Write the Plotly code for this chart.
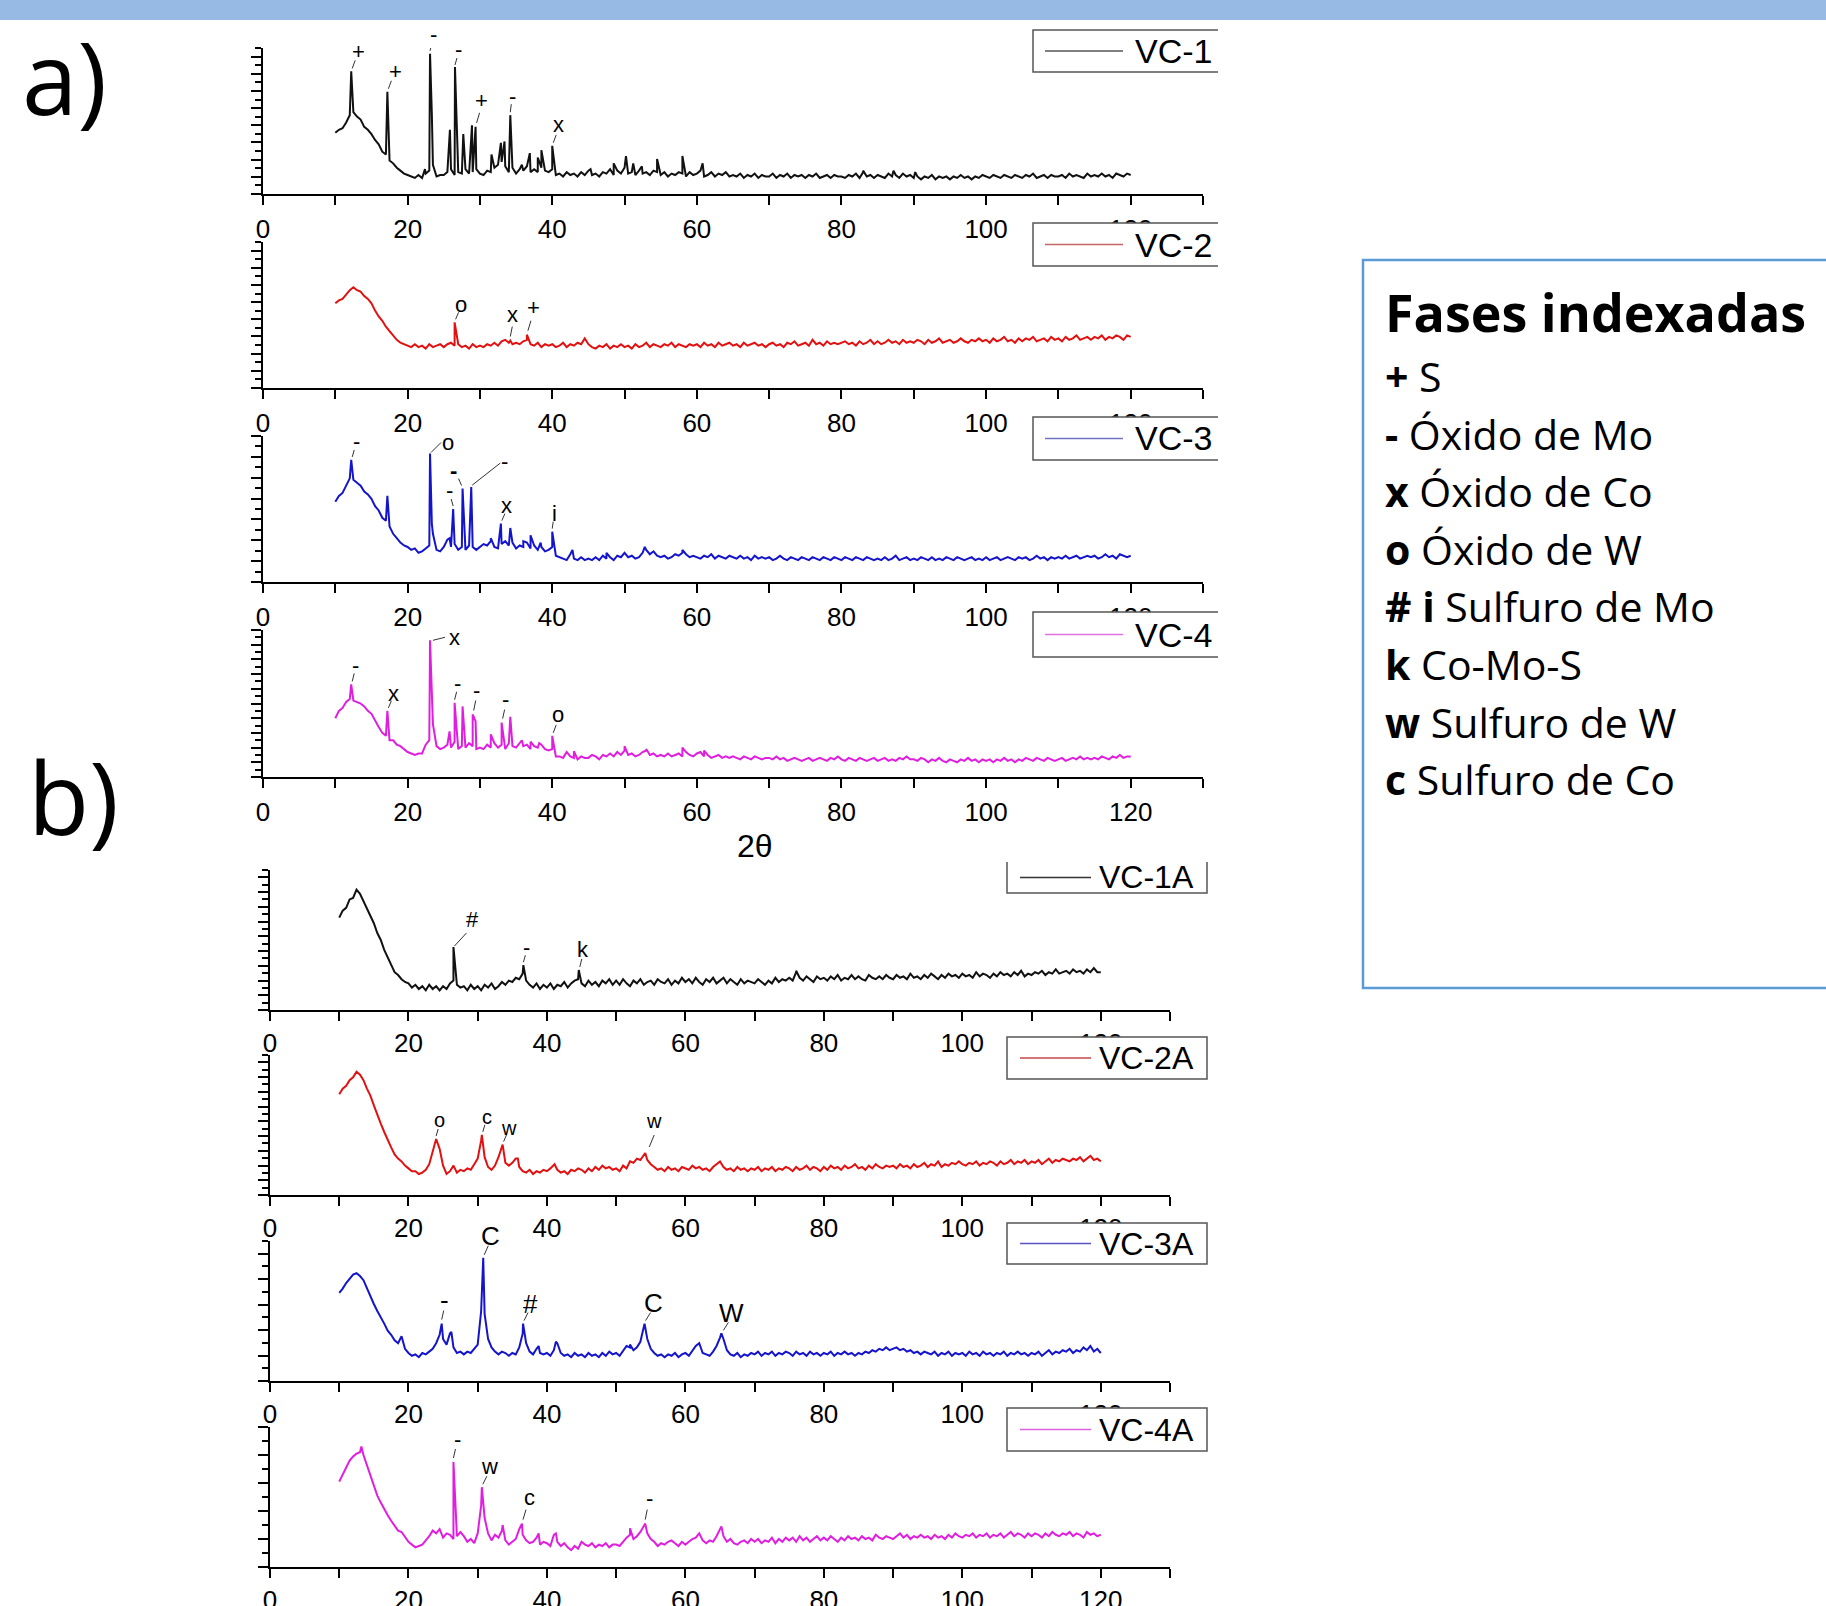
import plotly.graph_objects as go

FIG_W, FIG_H = 1826, 1606

# Patterns are sampled every 0.5 deg (2-theta) from 10 to 120 deg; intensity in a.u.
START, STEP = 10.0, 0.5

# ---------------- a) fresh catalysts ----------------
vc1 = [
    42, 44, 45, 49, 54, 56, 53, 51, 46, 44,
    41, 37, 34, 29, 27, 23, 21, 18, 16, 14,
    13, 12, 11, 13, 11, 14, 16, 20, 12, 13,
    13, 15, 17, 13, 15, 14, 17, 14, 15, 17,
    14, 13, 16, 15, 18, 20, 22, 19, 15, 18,
    14, 17, 16, 19, 15, 17, 15, 18, 16, 15,
    17, 13, 14, 12, 15, 13, 14, 12, 15, 13,
    16, 13, 14, 12, 15, 14, 17, 13, 16, 14,
    18, 14, 15, 13, 16, 14, 15, 13, 16, 15,
    13, 15, 12, 14, 13, 15, 14, 12, 15, 13,
    14, 16, 12, 13, 15, 12, 14, 13, 15, 12,
    13, 12, 14, 11, 13, 12, 14, 11, 13, 12,
    12, 14, 11, 13, 12, 14, 11, 13, 12, 13,
    11, 13, 12, 14, 11, 12, 13, 11, 13, 12,
    12, 11, 13, 12, 14, 11, 15, 12, 13, 11,
    13, 12, 11, 14, 12, 13, 11, 14, 12, 13,
    11, 12, 10, 12, 11, 13, 10, 12, 11, 12,
    10, 12, 11, 13, 11, 12, 10, 12, 11, 13,
    12, 11, 13, 12, 11, 13, 12, 11, 13, 12,
    11, 13, 12, 14, 11, 12, 13, 11, 13, 12,
    12, 13, 11, 14, 12, 13, 12, 11, 14, 12,
    13, 12, 14, 12, 13, 11, 14, 13, 12, 14,
    13,
]
vc1_peak_x = [12.2, 17.2, 22.4, 23.1, 23.35, 25.85, 26.55, 27.7, 28.9, 29.4,
              31.6, 32.9, 33.4, 34.2, 35.8, 36.9, 38.0, 38.5, 40.0, 45.3,
              48.5, 50.2, 51.2, 52.4, 54.5, 58.0, 60.8, 83.0, 87.2, 90.2]
vc1_peak_y = [84, 70, 17, 96, 55, 44, 87, 41, 47, 46,
              27, 35, 36, 54, 20, 28, 25, 30, 33, 17,
              21, 26, 21, 19, 24, 26, 21, 16, 16, 15]
vc1_sym = ["+", "+", "-", "-", "+", "-", "x"]
vc1_sym_x = [12.2, 17.2, 23.1, 26.55, 29.4, 34.2, 40.0]

vc2 = [
    58, 60, 61, 64, 67, 69, 67, 66, 63, 61,
    58, 53, 49, 46, 42, 39, 36, 33, 31, 30,
    29, 28, 30, 28, 29, 27, 30, 28, 29, 30,
    28, 30, 31, 29, 30, 28, 29, 27, 30, 28,
    29, 28, 30, 29, 31, 29, 32, 33, 31, 30,
    31, 30, 32, 33, 30, 29, 31, 28, 30, 29,
    30, 28, 29, 31, 28, 30, 29, 31, 30, 34,
    30, 28, 27, 29, 28, 30, 27, 29, 28, 30,
    28, 29, 27, 30, 28, 29, 31, 28, 30, 29,
    28, 30, 29, 31, 28, 30, 29, 28, 30, 29,
    30, 28, 31, 29, 30, 28, 31, 29, 30, 31,
    29, 30, 28, 31, 29, 30, 31, 29, 30, 28,
    30, 31, 29, 30, 28, 31, 30, 32, 29, 30,
    31, 29, 33, 30, 31, 29, 32, 30, 31, 30,
    31, 32, 30, 31, 29, 32, 30, 31, 33, 30,
    32, 30, 31, 33, 31, 32, 30, 33, 31, 32,
    31, 33, 32, 30, 33, 31, 32, 34, 31, 32,
    33, 31, 32, 34, 32, 31, 33, 32, 34, 32,
    33, 31, 34, 32, 33, 35, 32, 33, 31, 34,
    32, 34, 33, 35, 32, 33, 34, 32, 35, 33,
    34, 32, 35, 33, 34, 36, 33, 34, 35, 33,
    35, 34, 36, 33, 35, 34, 36, 35, 33, 36,
    35,
]
vc2_peak_x = [26.5, 34.2, 36.5]
vc2_peak_y = [45, 32.5, 36.5]
vc2_sym = ["o", "x", "+"]
vc2_sym_x = [26.5, 34.2, 36.5]

vc3 = [
    55, 59, 61, 66, 71, 70, 68, 66, 62, 60,
    57, 52, 49, 44, 42, 38, 33, 30, 27, 25,
    24, 22, 23, 20, 21, 23, 25, 33, 22, 21,
    24, 29, 24, 26, 22, 24, 22, 25, 24, 22,
    24, 26, 25, 28, 24, 23, 26, 28, 25, 27,
    23, 25, 24, 27, 23, 25, 22, 24, 21, 22,
    24, 18, 17, 16, 15, 19, 16, 15, 17, 15,
    16, 15, 17, 15, 18, 16, 17, 15, 18, 17,
    20, 17, 18, 16, 17, 20, 22, 19, 21, 18,
    17, 18, 16, 17, 19, 18, 20, 19, 17, 18,
    17, 16, 18, 17, 19, 16, 18, 17, 16, 18,
    17, 16, 18, 16, 17, 15, 18, 16, 17, 16,
    17, 15, 16, 18, 16, 15, 17, 16, 15, 17,
    16, 15, 17, 16, 15, 17, 16, 15, 17, 16,
    15, 17, 16, 15, 17, 16, 15, 17, 16, 15,
    16, 15, 17, 15, 16, 18, 15, 16, 17, 15,
    16, 15, 17, 16, 15, 17, 15, 16, 15, 17,
    16, 15, 17, 16, 15, 16, 17, 15, 16, 15,
    17, 15, 16, 17, 15, 16, 17, 16, 15, 17,
    16, 17, 15, 16, 18, 16, 17, 15, 17, 16,
    17, 16, 18, 16, 17, 18, 16, 17, 18, 17,
    18, 16, 17, 19, 17, 18, 16, 19, 18, 17,
    18,
]
vc3_peak_x = [12.2, 17.2, 23.1, 23.35, 25.8, 26.3, 27.6, 28.8, 31.5, 32.9,
              34.2, 36.0, 37.0, 38.4, 40.0, 42.8, 47.5, 52.8, 58.0]
vc3_peak_y = [83.6, 59, 88, 40, 30, 50, 64, 65, 30, 40,
              37, 28, 32, 27, 34.5, 22, 20, 24, 22]
vc3_sym = ["-", "o", "-", "<b>-</b>", "-", "x", "i"]
vc3_sym_x = [12.2, 23.1, 26.3, 27.6, 28.8, 32.9, 40.0]

vc4 = [
    40, 45, 47, 51, 53, 52, 51, 50, 48, 45,
    43, 38, 34, 30, 28, 25, 25, 22, 21, 19,
    17, 16, 15, 16, 16, 22, 25, 36, 21, 19,
    20, 22, 20, 24, 19, 21, 20, 23, 21, 19,
    20, 19, 22, 20, 23, 20, 22, 19, 23, 21,
    20, 23, 21, 22, 19, 21, 20, 22, 19, 18,
    19, 14, 14, 13, 17, 14, 13, 12, 14, 13,
    13, 15, 14, 12, 15, 14, 16, 14, 17, 15,
    18, 15, 16, 14, 15, 17, 18, 15, 16, 14,
    15, 14, 16, 14, 15, 16, 14, 17, 15, 14,
    16, 17, 14, 15, 13, 14, 15, 13, 14, 13,
    14, 13, 12, 14, 13, 12, 14, 13, 12, 13,
    13, 12, 14, 12, 13, 11, 12, 13, 12, 11,
    12, 13, 11, 12, 13, 12, 11, 13, 12, 14,
    12, 11, 13, 12, 11, 13, 12, 11, 12, 13,
    11, 12, 13, 11, 12, 11, 13, 12, 14, 12,
    12, 11, 13, 12, 10, 12, 11, 13, 11, 10,
    12, 11, 10, 12, 11, 13, 11, 12, 10, 12,
    11, 12, 10, 12, 11, 13, 11, 12, 10, 12,
    11, 13, 12, 11, 13, 12, 11, 13, 12, 11,
    12, 13, 11, 12, 13, 12, 14, 12, 13, 12,
    13, 12, 14, 13, 12, 14, 13, 15, 13, 14,
    14,
]
vc4_peak_x = [12.2, 17.2, 23.1, 23.4, 25.8, 26.5, 27.6, 29.0, 29.4, 31.5,
              33.0, 34.2, 35.8, 37.0, 38.2, 40.0, 43.0, 50.0, 53.0, 58.0, 61.0]
vc4_peak_y = [63, 45, 93, 48, 31, 50.5, 48, 42.5, 38, 29,
              37, 41, 25, 24, 23, 28, 17.5, 21, 19, 20, 18]
vc4_sym = ["-", "x", "x", "-", "-", "-", "o"]
vc4_sym_x = [12.2, 17.2, 23.1, 26.5, 29.0, 33.0, 40.0]

# ---------------- b) sulfided catalysts ----------------
vc1a = [
    66, 71, 73, 79, 80, 86, 83, 78, 72, 68,
    62, 55, 50, 43, 38, 32, 27, 25, 22, 20,
    19, 16, 18, 15, 17, 14, 18, 15, 17, 14,
    17, 15, 19, 21, 18, 16, 17, 14, 18, 15,
    17, 14, 18, 16, 19, 15, 17, 20, 18, 21,
    20, 23, 22, 26, 21, 18, 16, 19, 15, 18,
    16, 19, 15, 18, 17, 20, 16, 19, 21, 22,
    19, 17, 21, 18, 20, 17, 21, 19, 22, 18,
    21, 18, 22, 19, 17, 21, 19, 22, 18, 20,
    21, 18, 22, 20, 19, 22, 18, 21, 19, 23,
    20, 22, 19, 23, 20, 18, 22, 20, 23, 19,
    21, 23, 19, 22, 20, 18, 22, 19, 21, 20,
    19, 22, 20, 18, 21, 19, 23, 20, 22, 21,
    23, 21, 27, 23, 21, 24, 22, 20, 24, 22,
    23, 21, 24, 22, 25, 21, 23, 22, 25, 22,
    24, 22, 21, 25, 23, 22, 24, 22, 25, 23,
    22, 25, 23, 24, 22, 26, 23, 24, 22, 25,
    23, 26, 24, 22, 25, 23, 26, 24, 25, 23,
    26, 24, 25, 23, 27, 24, 26, 25, 23, 26,
    24, 27, 25, 26, 24, 27, 25, 28, 24, 26,
    25, 27, 26, 28, 25, 27, 26, 29, 26, 27,
    28, 26, 29, 27, 28, 26, 29, 27, 30, 27,
    27,
]
vc1a_peak_x = [26.5, 36.6, 44.6, 76.0]
vc1a_peak_y = [45, 32, 28.6, 28]
vc1a_sym = ["#", "-", "k"]
vc1a_sym_x = [26.5, 36.6, 44.6]

vc2a = [
    72, 76, 78, 82, 84, 88, 86, 82, 76, 71,
    64, 57, 51, 45, 39, 34, 29, 26, 24, 21,
    19, 17, 17, 15, 16, 18, 22, 31, 40, 33,
    21, 15, 17, 21, 16, 18, 17, 19, 18, 22,
    26, 39, 27, 20, 18, 21, 27, 34, 23, 21,
    23, 26, 20, 17, 16, 18, 15, 17, 16, 18,
    17, 19, 22, 18, 16, 17, 15, 18, 17, 19,
    18, 16, 19, 17, 20, 18, 21, 19, 20, 18,
    19, 17, 21, 19, 24, 23, 26, 25, 29, 25,
    22, 20, 18, 19, 17, 20, 18, 19, 17, 20,
    19, 18, 21, 19, 20, 18, 19, 17, 20, 22,
    24, 20, 18, 19, 17, 20, 18, 19, 17, 19,
    18, 20, 17, 19, 18, 20, 17, 19, 18, 20,
    19, 17, 20, 18, 19, 21, 18, 20, 19, 17,
    20, 18, 21, 19, 20, 18, 21, 19, 20, 22,
    19, 20, 18, 21, 19, 22, 20, 19, 21, 20,
    21, 19, 22, 20, 21, 19, 22, 20, 21, 23,
    20, 22, 21, 24, 20, 22, 21, 23, 22, 24,
    22, 21, 23, 22, 24, 21, 23, 22, 24, 23,
    21, 24, 22, 23, 25, 22, 24, 23, 25, 22,
    24, 23, 25, 22, 24, 26, 23, 25, 24, 26,
    25, 24, 26, 25, 27, 24, 26, 28, 25, 26,
    24,
]
vc2a_peak_x = [30.6, 33.6, 35.8, 41.1, 54.2]
vc2a_peak_y = [43, 36, 26, 22, 30]
vc2a_sym = ["o", "c", "w", "w"]
vc2a_sym_x = [24.0, 30.6, 33.6, 54.2]

vc3a = [
    63, 66, 70, 73, 76, 77, 75, 72, 66, 61,
    55, 50, 46, 41, 36, 33, 29, 27, 32, 23,
    20, 18, 19, 17, 20, 19, 21, 23, 27, 33,
    30, 26, 34, 24, 20, 21, 19, 21, 20, 23,
    26, 50, 48, 30, 24, 21, 19, 21, 20, 18,
    20, 19, 24, 34, 27, 21, 19, 23, 20, 19,
    20, 18, 22, 27, 20, 18, 19, 17, 20, 18,
    19, 17, 20, 18, 19, 17, 20, 18, 21, 19,
    20, 18, 22, 25, 24, 22, 24, 28, 38, 30,
    23, 20, 18, 19, 17, 19, 18, 20, 17, 19,
    20, 18, 22, 25, 27, 20, 19, 18, 21, 25,
    31, 30, 22, 19, 18, 20, 17, 19, 18, 20,
    19, 21, 18, 20, 19, 21, 18, 20, 19, 21,
    20, 18, 21, 19, 20, 18, 21, 19, 20, 18,
    20, 19, 21, 18, 20, 19, 21, 19, 20, 18,
    20, 19, 21, 20, 22, 21, 23, 22, 24, 22,
    23, 24, 22, 23, 21, 22, 20, 21, 19, 21,
    20, 19, 21, 18, 20, 19, 21, 18, 20, 19,
    20, 18, 21, 19, 20, 18, 21, 19, 20, 18,
    20, 19, 21, 18, 20, 19, 21, 19, 20, 18,
    20, 19, 21, 18, 20, 22, 19, 21, 20, 22,
    21, 23, 20, 22, 21, 24, 22, 25, 21, 23,
    20,
]
vc3a_peak_x = [24.8, 26.2, 30.8, 36.55, 38.8, 41.3, 52.0, 54.1, 62.0, 65.2]
vc3a_peak_y = [41, 35, 88, 41, 25, 28, 26, 41, 27, 34]
vc3a_sym = ["-", "C", "#", "C", "W"]
vc3a_sym_x = [24.8, 30.8, 36.55, 54.1, 65.2]

vc4a = [
    61, 66, 71, 76, 79, 81, 82, 80, 73, 66,
    58, 51, 46, 41, 37, 33, 29, 26, 25, 21,
    18, 16, 14, 15, 16, 19, 22, 26, 24, 27,
    21, 24, 23, 20, 22, 25, 22, 18, 20, 17,
    24, 44, 35, 24, 19, 23, 21, 26, 19, 16,
    18, 20, 27, 23, 19, 17, 18, 21, 16, 18,
    17, 15, 23, 18, 15, 17, 14, 12, 15, 13,
    18, 16, 15, 17, 14, 16, 15, 17, 14, 16,
    16, 15, 18, 21, 23, 20, 22, 25, 29, 24,
    20, 18, 15, 17, 16, 18, 19, 17, 15, 18,
    16, 18, 20, 21, 24, 19, 17, 19, 18, 22,
    27, 22, 18, 20, 17, 16, 18, 19, 17, 20,
    18, 20, 17, 19, 18, 21, 17, 20, 18, 21,
    19, 21, 18, 22, 19, 21, 18, 20, 22, 19,
    21, 19, 22, 20, 18, 21, 19, 22, 20, 21,
    19, 22, 20, 21, 19, 23, 21, 20, 22, 21,
    20, 22, 24, 21, 23, 20, 22, 21, 23, 21,
    22, 20, 23, 21, 22, 20, 23, 21, 24, 22,
    21, 23, 22, 24, 21, 23, 22, 24, 21, 23,
    22, 24, 21, 23, 25, 22, 24, 23, 21, 24,
    22, 24, 23, 21, 24, 22, 25, 23, 22, 24,
    23, 25, 22, 24, 23, 21, 25, 23, 24, 22,
    23,
]
vc4a_peak_x = [13.2, 26.5, 30.6, 33.6, 36.4, 38.8, 41.3, 52.0, 54.2, 62.0, 65.2]
vc4a_peak_y = [86, 75, 57, 30, 31, 24, 24, 27.6, 31, 24, 29]
vc4a_sym = ["-", "w", "c", "-"]
vc4a_sym_x = [26.5, 30.6, 36.4, 54.2]

x_tick_vals = [0, 20, 40, 60, 80, 100, 120]

phase_title = "Fases indexadas"
phase_keys = ["+", "-", "x", "o", "# i", "k", "w", "c"]
phase_names = ["S", "Óxido de Mo", "Óxido de Co", "Óxido de W",
               "Sulfuro de Mo", "Co-Mo-S", "Sulfuro de W", "Sulfuro de Co"]

# ---------------- styling / geometry (pixels) ----------------
series = [
    dict(name="VC-1", y=vc1, px=vc1_peak_x, py=vc1_peak_y, sym=vc1_sym, sx=vc1_sym_x,
         color="#111111", key="#555555"),
    dict(name="VC-2", y=vc2, px=vc2_peak_x, py=vc2_peak_y, sym=vc2_sym, sx=vc2_sym_x,
         color="#e31010", key="#c86464"),
    dict(name="VC-3", y=vc3, px=vc3_peak_x, py=vc3_peak_y, sym=vc3_sym, sx=vc3_sym_x,
         color="#1414cc", key="#7373c4"),
    dict(name="VC-4", y=vc4, px=vc4_peak_x, py=vc4_peak_y, sym=vc4_sym, sx=vc4_sym_x,
         color="#e01ee0", key="#e070e0"),
    dict(name="VC-1A", y=vc1a, px=vc1a_peak_x, py=vc1a_peak_y, sym=vc1a_sym, sx=vc1a_sym_x,
         color="#111111", key="#333333"),
    dict(name="VC-2A", y=vc2a, px=vc2a_peak_x, py=vc2a_peak_y, sym=vc2a_sym, sx=vc2a_sym_x,
         color="#e31010", key="#cc4444"),
    dict(name="VC-3A", y=vc3a, px=vc3a_peak_x, py=vc3a_peak_y, sym=vc3a_sym, sx=vc3a_sym_x,
         color="#1414cc", key="#5555c8"),
    dict(name="VC-4A", y=vc4a, px=vc4a_peak_x, py=vc4a_peak_y, sym=vc4a_sym, sx=vc4a_sym_x,
         color="#e01ee0", key="#e060e0"),
]

# plot-area boxes: (left, right, top, bottom), legend box (top, bottom), y-tick intervals
geom = [
    dict(l=263, r=1203, t=48, b=194, bt=30, bb=72, n=17, sd=2),
    dict(l=263, r=1203, t=242, b=388, bt=223, bb=266, n=17, sd=2),
    dict(l=263, r=1203, t=436, b=582, bt=417, bb=460, n=14, sd=2),
    dict(l=263, r=1203, t=630, b=777, bt=612, bb=657, n=20, sd=2),
    dict(l=270, r=1170, t=870, b=1010, bt=862, bb=893, n=19, sd=0),
    dict(l=270, r=1170, t=1055, b=1195, bt=1037, bb=1079, n=19, sd=0),
    dict(l=270, r=1170, t=1241, b=1381, bt=1223, bb=1264, n=11, sd=0),
    dict(l=270, r=1170, t=1427, b=1567, bt=1408, bb=1451, n=10, sd=0),
]
legend_a = dict(bl=1033, br=1218, l0=1045, l1=1123, tx=1133, size=34, open_right=True)
legend_b = dict(bl=1007, br=1207, l0=1020, l1=1091, tx=1097, size=32, open_right=False)

# text offset (dx, dy up) and leader line (x0, y0, x1, y1) in pixels, per label
label_style = [
    [(7, 20, 1, 3, 4, 11), (8, 20, 1, 3, 4, 11), (3, 19, 0, 3, 2, 11), (4, 17, 0, 2, 2, 9),
     (6, 26, 1, 4, 4, 14), (2, 19, 0, 3, 1, 11), (6, 21, 1, 3, 4, 11)],
    [(6, 18, 1, 3, 4, 10), (2, 26, 0, 4, 2, 14), (7, 27, 1, 4, 4, 14)],
    [(5, 18, 1, 3, 3, 10), (18, 11, 1, 1, 11, 11), (-4, 18, 0, 3, -2, 10), (-9, 18, -1, 3, -4, 10),
     (33, 26, 1, 2, 29, 24), (6, 18, 1, 3, 4, 10), (2, 18, 0, 3, 1, 10)],
    [(4, 19, 1, 3, 3, 11), (6, 17, 1, 3, 4, 10), (24, 3, 3, 0, 15, 3), (3, 19, 0, 3, 2, 11),
     (4, 24, 1, 4, 3, 14), (4, 23, 1, 4, 3, 13), (6, 21, 1, 3, 4, 11)],
    [(19, 27, 1, 1, 13, 14), (3, 18, 0, 3, 2, 10), (4, 20, 1, 3, 3, 11)],
    [(3, 19, 0, 3, 2, 10), (5, 18, 1, 3, 3, 10), (6, 17, 1, 3, 4, 10), (9, 32, 4, 6, 9, 18)],
    [(3, 24, 0, 4, 2, 13), (7, 22, 1, 3, 5, 12), (7, 20, 1, 3, 5, 11), (9, 21, 1, 3, 6, 11),
     (10, 20, 2, 3, 7, 11)],
    [(4, 23, 0, 4, 2, 13), (8, 21, 1, 3, 5, 11), (7, 26, 1, 4, 4, 14), (4, 25, 0, 4, 2, 14)],
]
label_size = [22, 22, 22, 22, 22, 20, 26, 22]

AXIS_FONT = "Liberation Sans, Arial, sans-serif"
TEXT_FONT = "Open Sans, Noto Sans, sans-serif"


def px_x(v):
    return v / FIG_W


def px_y(v):
    return 1 - v / FIG_H


def value_at(s, x):
    for a, b in zip(s["px"], s["py"]):
        if abs(a - x) < 1e-9:
            return b
    return s["y"][round((x - START) / STEP)]


fig = go.Figure()
shapes = []
annotations = []

for k, (s, g) in enumerate(zip(series, geom)):
    sid = "" if k == 0 else str(k + 1)
    xref, yref = "x" + sid, "y" + sid

    grid_x = [START + STEP * i for i in range(len(s["y"]))]
    pts = sorted(list(zip(grid_x, s["y"])) + list(zip(s["px"], s["py"])))
    fig.add_trace(go.Scatter(
        x=[p[0] for p in pts], y=[p[1] for p in pts], mode="lines",
        line=dict(color=s["color"], width=2.0), name=s["name"],
        xaxis=xref, yaxis=yref, hoverinfo="skip", showlegend=False))

    fig.layout["xaxis" + sid] = dict(
        domain=[px_x(g["l"]), px_x(g["r"])], range=[0, 130], anchor=yref,
        showgrid=False, zeroline=False, showline=True, linecolor="black", linewidth=2,
        tickmode="array", tickvals=x_tick_vals, ticktext=[str(v) for v in x_tick_vals],
        ticks="outside", ticklen=9, tickwidth=1.5, tickcolor="black",
        minor=dict(tickmode="linear", tick0=0, dtick=10, ticks="outside", ticklen=9,
                   tickwidth=1.5, tickcolor="black", showgrid=False),
        tickfont=dict(family=AXIS_FONT, size=26, color="black"),
        ticklabelstandoff=g["sd"],
    )
    step = 100.0 / g["n"]
    fig.layout["yaxis" + sid] = dict(
        domain=[px_y(g["b"]), px_y(g["t"])], range=[0, 100], anchor=xref,
        showgrid=False, zeroline=False, showline=True, linecolor="black", linewidth=2,
        tickmode="linear", tick0=0, dtick=2 * step, ticks="outside", ticklen=10,
        tickwidth=1.5, tickcolor="black", showticklabels=False,
        minor=dict(tickmode="linear", tick0=0, dtick=step, ticks="outside", ticklen=6,
                   tickwidth=1.5, tickcolor="black", showgrid=False),
    )

    # phase labels with short leader lines
    for j, (sym, xpos) in enumerate(zip(s["sym"], s["sx"])):
        yv = value_at(s, xpos)
        tdx, tdy, lx0, ly0, lx1, ly1 = label_style[k][j]
        shapes.append(dict(type="line", xref=xref, yref=yref,
                           xsizemode="pixel", ysizemode="pixel",
                           xanchor=xpos, yanchor=yv, x0=lx0, x1=lx1, y0=ly0, y1=ly1,
                           line=dict(color="#333333", width=1), layer="above"))
        annotations.append(dict(xref=xref, yref=yref, x=xpos, y=yv, text=sym,
                                showarrow=False, xshift=tdx, yshift=tdy,
                                xanchor="center", yanchor="middle",
                                font=dict(family=AXIS_FONT, size=label_size[k], color="black")))

    # legend box drawn on top of the neighbouring tick labels
    lg = legend_a if k < 4 else legend_b
    shapes.append(dict(type="rect", xref="paper", yref="paper",
                       x0=px_x(lg["bl"]), x1=px_x(lg["br"]), y0=px_y(g["bb"]), y1=px_y(g["bt"]),
                       fillcolor="white", line=dict(width=0), layer="above"))
    bl, br, bt, bb = px_x(lg["bl"]), px_x(lg["br"]), px_y(g["bt"]), px_y(g["bb"])
    if k == 4:
        path = f"M {br},{bt} L {br},{bb} L {bl},{bb} L {bl},{bt}"
    elif lg["open_right"]:
        path = f"M {br},{bt} L {bl},{bt} L {bl},{bb} L {br},{bb}"
    else:
        path = f"M {bl},{bt} L {br},{bt} L {br},{bb} L {bl},{bb} Z"
    shapes.append(dict(type="path", xref="paper", yref="paper", path=path,
                       line=dict(color="#555555", width=1.5), layer="above"))
    ymid = (g["bt"] + g["bb"]) / 2
    shapes.append(dict(type="line", xref="paper", yref="paper",
                       x0=px_x(lg["l0"]), x1=px_x(lg["l1"]), y0=px_y(ymid), y1=px_y(ymid),
                       line=dict(color=s["key"], width=1.5), layer="above"))
    annotations.append(dict(xref="paper", yref="paper", x=px_x(lg["tx"]), y=px_y(ymid),
                            text=s["name"], showarrow=False, xanchor="left", yanchor="middle",
                            font=dict(family=AXIS_FONT, size=lg["size"], color="black")))

# header band
shapes.insert(0, dict(type="rect", xref="paper", yref="paper", x0=0, x1=1,
                      y0=px_y(20), y1=1, fillcolor="#97bae4", line=dict(width=0), layer="above"))

# x-axis title between the two panels
annotations.append(dict(xref="paper", yref="paper", x=px_x(755), y=px_y(846), text="2θ",
                        showarrow=False, xanchor="center", yanchor="middle",
                        font=dict(family=AXIS_FONT, size=32, color="black")))

# panel letters
annotations.append(dict(xref="paper", yref="paper", x=px_x(20), y=px_y(76), text="a)",
                        showarrow=False, xanchor="left", yanchor="middle",
                        font=dict(family=TEXT_FONT, size=100, color="black")))
annotations.append(dict(xref="paper", yref="paper", x=px_x(26), y=px_y(796), text="b)",
                        showarrow=False, xanchor="left", yanchor="middle",
                        font=dict(family=TEXT_FONT, size=100, color="black")))

# phase key box
shapes.append(dict(type="rect", xref="paper", yref="paper", x0=px_x(1363), x1=1.01,
                   y0=px_y(988), y1=px_y(260), line=dict(color="#5b9bd5", width=2.5),
                   fillcolor="rgba(0,0,0,0)", layer="above"))
annotations.append(dict(xref="paper", yref="paper", x=px_x(1383), y=px_y(311),
                        text="<b>" + phase_title + "</b>", showarrow=False,
                        xanchor="left", yanchor="middle",
                        font=dict(family=TEXT_FONT, size=52, color="black")))
for i, (key, name) in enumerate(zip(phase_keys, phase_names)):
    annotations.append(dict(xref="paper", yref="paper", x=px_x(1383), y=px_y(376 + 57.6 * i),
                            text="<b>" + key + "</b> " + name, showarrow=False,
                            xanchor="left", yanchor="middle",
                            font=dict(family=TEXT_FONT, size=41, color="black")))

fig.update_layout(
    width=FIG_W, height=FIG_H, margin=dict(l=0, r=0, t=0, b=0),
    template="none", paper_bgcolor="white", plot_bgcolor="white",
    showlegend=False, shapes=shapes, annotations=annotations,
)

fig.write_html("out.html")
